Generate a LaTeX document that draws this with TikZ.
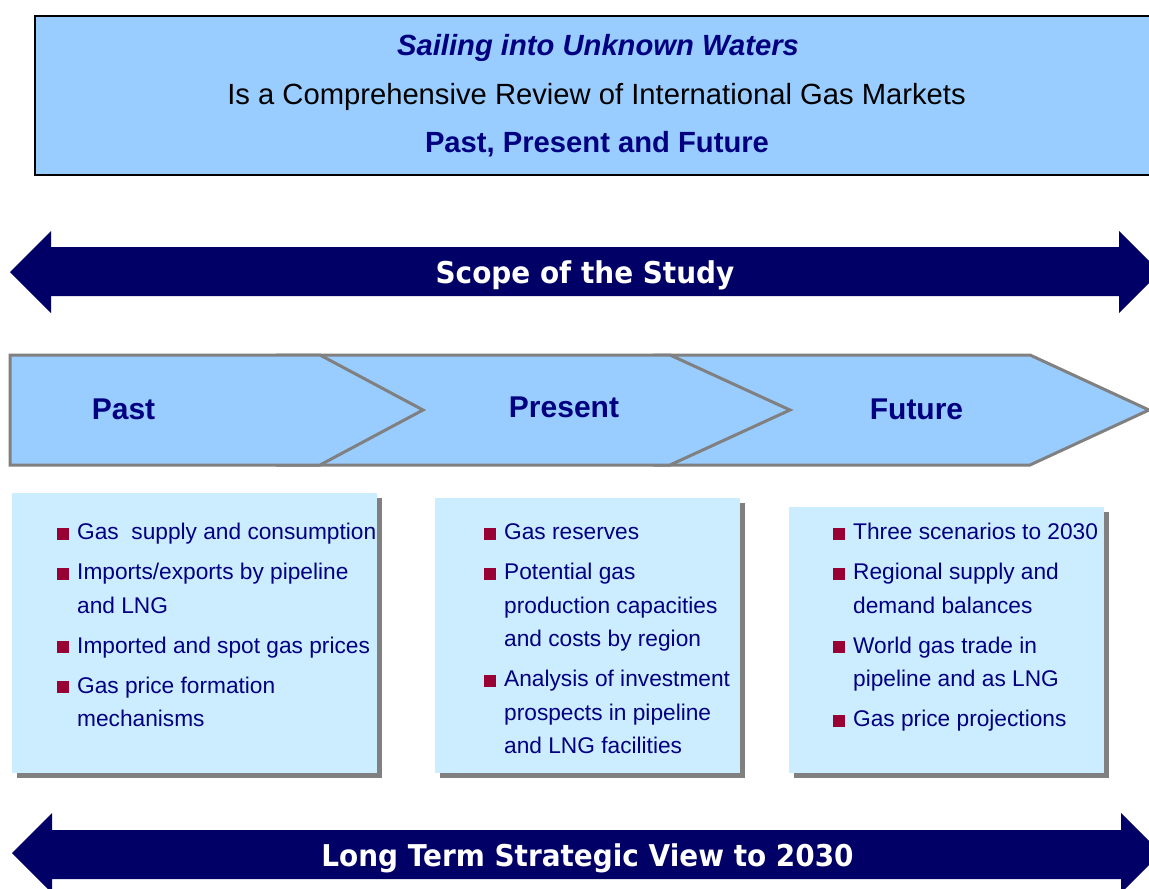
\documentclass[tikz,border=0pt]{standalone}
\usepackage{fontspec}
\setmainfont{Liberation Sans}
\newfontfamily\bandfont[FakeStretch=0.93]{DejaVu Sans}
\usetikzlibrary{shadows}
\definecolor{titleblue}{HTML}{99CCFF}
\definecolor{listblue}{HTML}{CCECFF}
\definecolor{chevrongray}{HTML}{808080}
\definecolor{shadowgray}{HTML}{808080}
\definecolor{arrownavy}{HTML}{000066}
\definecolor{textnavy}{HTML}{000080}
\definecolor{bulletred}{HTML}{990033}
\newcommand{\gasbullet}{\textcolor{bulletred}{\rule{12pt}{12pt}}}
\newcommand{\titlesize}{\fontsize{29.2}{35}\selectfont}
\begin{document}
\begin{tikzpicture}[x=1pt,y=-1pt]
\tikzset{BoxStyle/.style = {fill=listblue, anchor=north west, inner sep=0pt,
  drop shadow={shadow xshift=5pt, shadow yshift=-5pt, fill=shadowgray, opacity=1}},
  ChevronStyle/.style = {fill=titleblue, draw=chevrongray, line width=3pt},
  ArrowStyle/.style = {fill=arrownavy},
  ListStyle/.style = {anchor=base west, inner sep=0pt, text=textnavy, font=\fontsize{22.7}{33.5}\selectfont},
  PhaseStyle/.style = {anchor=base, inner sep=0pt, text=textnavy, font=\fontsize{30}{36}\selectfont\bfseries},
  BandStyle/.style = {anchor=base, inner sep=0pt, text=white, font=\bandfont\fontsize{30}{36}\selectfont\bfseries},
  TitleStyle/.style = {anchor=base, inner sep=0pt}}
\useasboundingbox (0,0) rectangle (1149,889);
\clip (0,0) rectangle (1149,889);
% title
\node[draw, line width=1.6pt, fill=titleblue, anchor=north west, inner sep=0pt, minimum width=1140pt, minimum height=159pt] (0) at (34,15) {};
\node[TitleStyle, text=textnavy, font=\titlesize\bfseries\itshape] (1) at (598,55) {Sailing into Unknown Waters};
\node[TitleStyle, font=\titlesize] (2) at (596.5,104) {Is a Comprehensive Review of International Gas Markets};
\node[TitleStyle, text=textnavy, font=\titlesize\bfseries] (3) at (597,152) {Past, Present and Future};
% scope band
\fill[ArrowStyle] (10,272) -- (51,231) -- (51,247) -- (1119,247) -- (1119,231) -- (1160,272)
  -- (1119,313) -- (1119,296) -- (51,296) -- (51,313) -- cycle;
\node[BandStyle] (4) at (585,283) {Scope of the Study};
% phases
\draw[ChevronStyle] (660,355) -- (1030,355) -- (1149,410) -- (1030,465) -- (660,465) -- (780,410) -- cycle;
\draw[ChevronStyle] (282,355) -- (670,355) -- (790,410) -- (670,465) -- (282,465) -- (385,410) -- cycle;
\draw[ChevronStyle] (10,355) -- (320,355) -- (423,410) -- (320,465) -- (10,465) -- cycle;
\node[PhaseStyle] (5) at (123.5,419) {Past};
\node[PhaseStyle] (6) at (564,417) {Present};
\node[PhaseStyle] (7) at (916.5,419) {Future};
% lists
\node[BoxStyle, minimum width=365pt, minimum height=280pt] (8) at (12,493) {};
\node[BoxStyle, minimum width=305pt, minimum height=275pt] (9) at (435,498) {};
\node[BoxStyle, minimum width=315pt, minimum height=266pt] (10) at (789,507) {};
\node[ListStyle] (11) at (57,539.5) {\begin{tabular}[t]{@{}l@{\hspace{8pt}}l@{}}
  \gasbullet & Gas~ supply and consumption\\[6.5pt]
  \gasbullet & Imports/exports by pipeline\\ & and LNG\\[6.5pt]
  \gasbullet & Imported and spot gas prices\\[6.5pt]
  \gasbullet & Gas price formation\\ & mechanisms
  \end{tabular}};
\node[ListStyle] (12) at (484,539.5) {\begin{tabular}[t]{@{}l@{\hspace{8pt}}l@{}}
  \gasbullet & Gas reserves\\[6.5pt]
  \gasbullet & Potential gas\\ & production capacities\\ & and costs by region\\[6.5pt]
  \gasbullet & Analysis of investment\\ & prospects in pipeline\\ & and LNG facilities
  \end{tabular}};
\node[ListStyle] (13) at (833,539.5) {\begin{tabular}[t]{@{}l@{\hspace{8pt}}l@{}}
  \gasbullet & Three scenarios to 2030\\[6.5pt]
  \gasbullet & Regional supply and\\ & demand balances\\[6.5pt]
  \gasbullet & World gas trade in\\ & pipeline and as LNG\\[6.5pt]
  \gasbullet & Gas price projections
  \end{tabular}};
% horizon band
\fill[ArrowStyle] (12,853) -- (52,813) -- (52,830) -- (1121,830) -- (1121,813) -- (1161,853)
  -- (1121,893) -- (1121,879) -- (52,879) -- (52,893) -- cycle;
\node[BandStyle] (14) at (587.5,866) {Long Term Strategic View to 2030};
\end{tikzpicture}
\end{document}
